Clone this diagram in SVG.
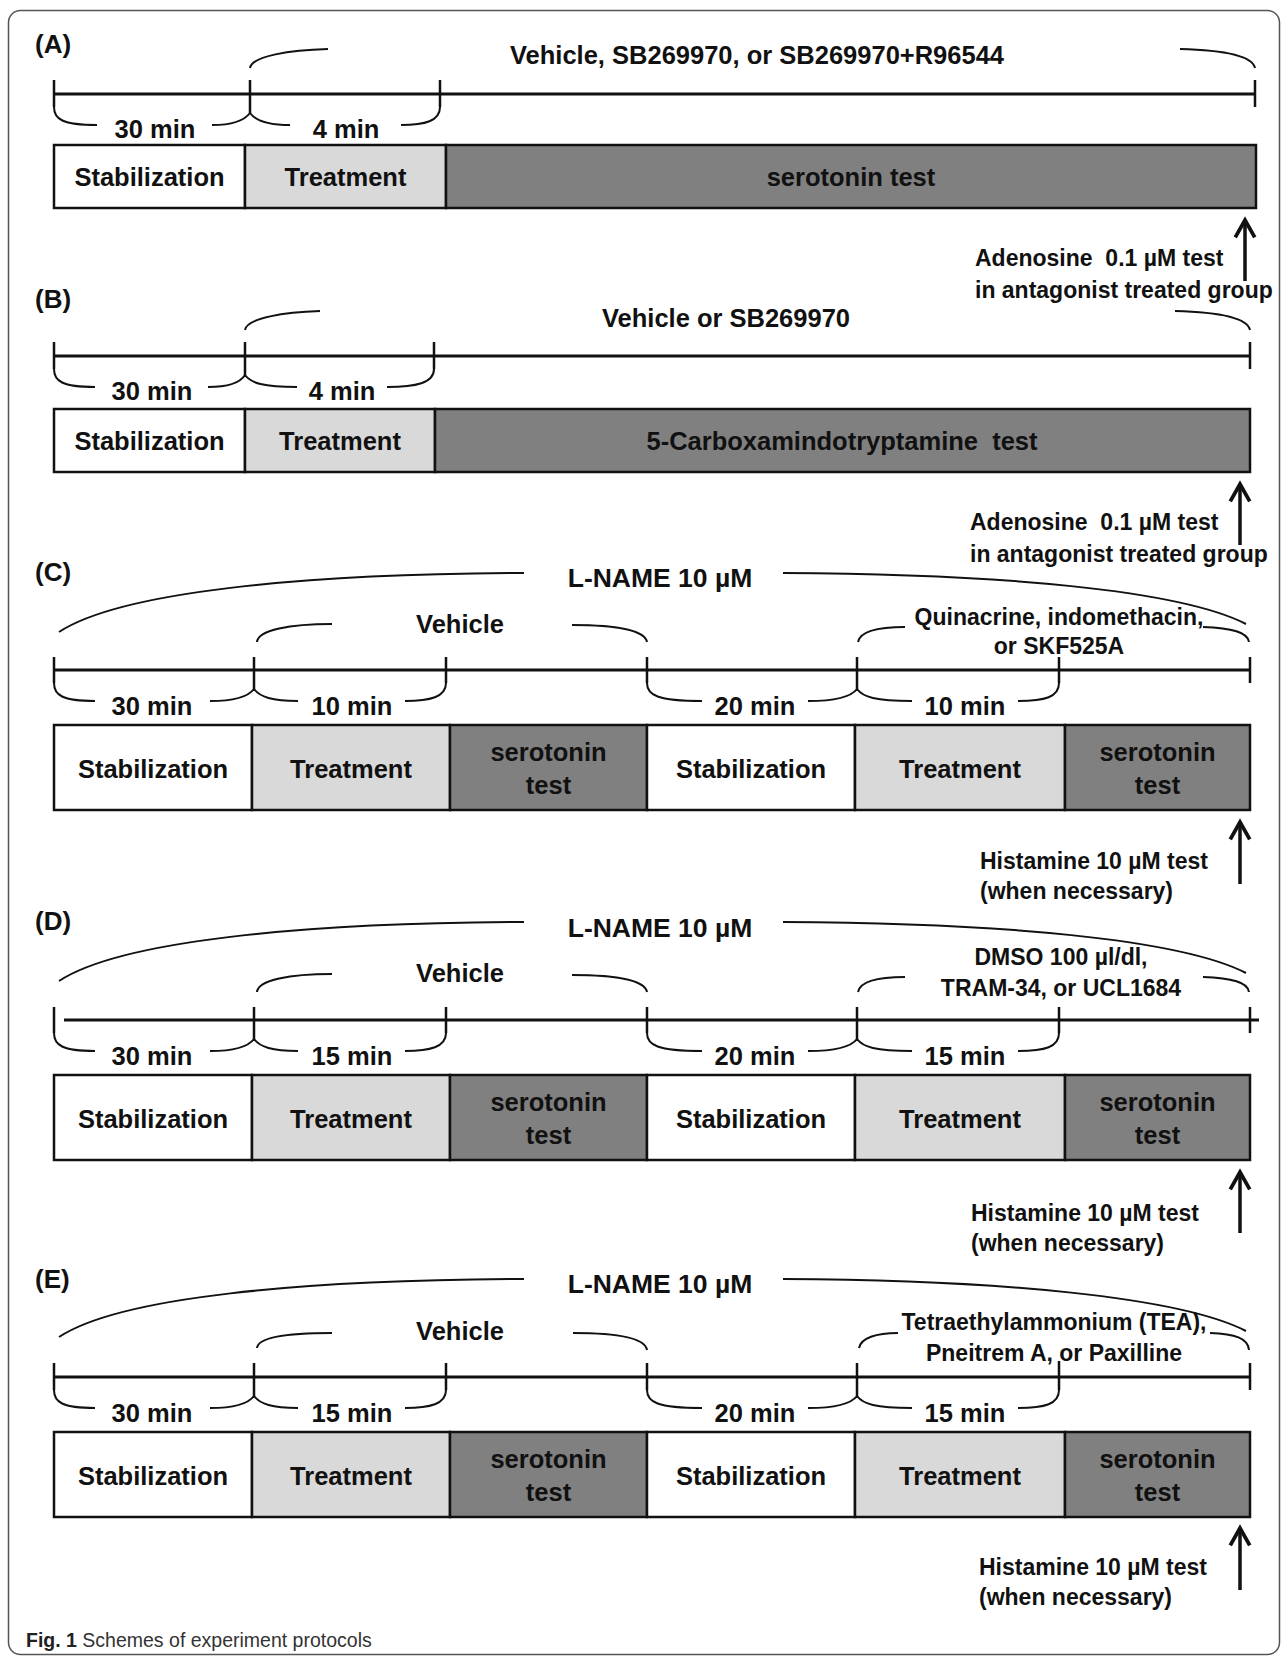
<svg xmlns="http://www.w3.org/2000/svg" width="1287" height="1660" viewBox="0 0 1287 1660">
<defs>
<style>
.t{font-family:'Liberation Sans',Arial,sans-serif;font-weight:bold;fill:#111}
.m{font-size:25.5px;text-anchor:middle}
.a{font-size:23px}
.ac{font-size:23px;text-anchor:middle}
.lbl{font-size:26px}
.ln{font-size:26.5px;text-anchor:middle}
.tl{stroke:#111;stroke-width:3.2;fill:none}
.tk{stroke:#111;stroke-width:2.5;fill:none}
.br{stroke:#111;stroke-width:2;fill:none}
.bx{stroke:#111;stroke-width:2.5}
.w{fill:#fff}.lg{fill:#d9d9d9}.dg{fill:#808080}
.ar{stroke:#111;stroke-width:3.5;fill:none;marker-end:url(#ah)}
.cap{font-family:'Liberation Sans',Arial,sans-serif;font-size:19.5px;fill:#333}
</style>
<marker id="ah" markerUnits="userSpaceOnUse" markerWidth="24" markerHeight="26" viewBox="-18 -12 22 24" refX="0" refY="0" orient="auto">
<path d="M-16,-9 L0,0 L-16,9" fill="none" stroke="#111" stroke-width="3.5"/>
</marker>
</defs>
<rect x="8.5" y="10.5" width="1271" height="1644" rx="12" fill="#fff" stroke="#555" stroke-width="1.5"/>

<!-- Panel A -->
<g id="panelA">
<text class="t lbl" x="35" y="53">(A)</text>
<text class="t m" x="757" y="64">Vehicle, SB269970, or SB269970+R96544</text>
<g id="connA">
<line class="tl" x1="54" y1="94" x2="1255" y2="94"/>
<path class="tk" d="M54,80 V107 M250,80 V113 M440,80 V107 M1255,80 V107"/>
<path class="br" d="M250,68 C252,56 290,50 328,49 M1180,49 C1220,50 1252,55 1255,68"/>
<path class="br" d="M54,107 C54,119 62,125 97,125 M212,125 C232,125 244,121 250,113 M250,113 C256,121 268,125 290,125 M401,125 C425,125 440,121 440,107"/>
<line class="ar" x1="1245" y1="281" x2="1245" y2="220"/>
</g>
<text class="t m" x="155" y="138">30 min</text>
<text class="t m" x="346" y="138">4 min</text>
<g id="A_stab"><rect class="bx w" x="54" y="145" width="191" height="63"/><text class="t m" x="149.5" y="186">Stabilization</text></g>
<g id="A_treat"><rect class="bx lg" x="245" y="145" width="201" height="63"/><text class="t m" x="345.5" y="186">Treatment</text></g>
<g id="A_test"><rect class="bx dg" x="446" y="145" width="810" height="63"/><text class="t m" x="851" y="186">serotonin test</text></g>
<text class="t a" x="975" y="266" xml:space="preserve">Adenosine  0.1 µM test</text>
<text class="t a" x="975" y="298">in antagonist treated group</text>
</g>

<!-- Panel B -->
<g id="panelB">
<text class="t lbl" x="35" y="308">(B)</text>
<text class="t m" x="726" y="327">Vehicle or SB269970</text>
<g id="connB">
<line class="tl" x1="54" y1="356" x2="1250" y2="356"/>
<path class="tk" d="M54,342 V369 M245,342 V375 M434,342 V369 M1250,342 V369"/>
<path class="br" d="M245,330 C247,318 285,312 320,311 M1175,311 C1215,312 1247,317 1250,330"/>
<path class="br" d="M54,369 C54,381 62,387 95,387 M208,387 C228,387 240,383 245,375 M245,375 C251,383 263,387 297,387 M387,387 C416,387 434,383 434,369"/>
<line class="ar" x1="1240" y1="545" x2="1240" y2="484"/>
</g>
<text class="t m" x="152" y="400">30 min</text>
<text class="t m" x="342" y="400">4 min</text>
<g id="B_stab"><rect class="bx w" x="54" y="409" width="191" height="63"/><text class="t m" x="149.5" y="450">Stabilization</text></g>
<g id="B_treat"><rect class="bx lg" x="245" y="409" width="190" height="63"/><text class="t m" x="340" y="450">Treatment</text></g>
<g id="B_test"><rect class="bx dg" x="435" y="409" width="815" height="63"/><text class="t m" x="842" y="450" xml:space="preserve">5-Carboxamindotryptamine  test</text></g>
<text class="t a" x="970" y="530" xml:space="preserve">Adenosine  0.1 µM test</text>
<text class="t a" x="970" y="562">in antagonist treated group</text>
</g>

<!-- Panel C -->
<g id="panelC" transform="translate(0,670)">
<text class="t lbl" x="35" y="-89">(C)</text>
<text class="t ln" x="660" y="-83">L-NAME 10 µM</text>
<text class="t m" x="460" y="-37">Vehicle</text>
<text class="t ac" x="1059" y="-45">Quinacrine, indomethacin,</text>
<text class="t ac" x="1059" y="-16">or SKF525A</text>
<g id="connC">
<path class="br" d="M59,-38 C120,-78 300,-96 524,-97 M783,-97 C1000,-96 1180,-80 1246,-46"/>
<path class="br" d="M257,-28 C258,-40 290,-46 332,-46 M572,-45 C615,-45 645,-40 647,-28"/>
<path class="br" d="M858,-28 C860,-38 876,-43 905,-43 M1203,-43 C1232,-42 1248,-38 1249,-28"/>
<line class="tl" x1="54" y1="0" x2="1250" y2="0"/>
<path class="tk" d="M54,-13 V13 M254,-13 V19 M446,-13 V13 M647,-13 V13 M857,-13 V19 M1059,-13 V13 M1250,-13 V13"/>
<path class="br" d="M54,13 C54,25 62,31 95,31 M210,31 C232,31 248,27 254,19 M254,19 C260,27 272,31 298,31 M405,31 C430,31 446,27 446,13 M647,13 C647,25 657,31 702,31 M808,31 C836,31 851,27 857,19 M857,19 C863,27 875,31 912,31 M1018,31 C1045,31 1059,27 1059,13"/>
<line class="ar" x1="1240" y1="214" x2="1240" y2="152"/>
</g>
<text class="t m" x="152" y="45">30 min</text>
<text class="t m" x="352" y="45">10 min</text>
<text class="t m" x="755" y="45">20 min</text>
<text class="t m" x="965" y="45">10 min</text>
<g id="C_stab1"><rect class="bx w" x="54" y="55" width="198" height="85"/><text class="t m" x="153" y="108">Stabilization</text></g>
<g id="C_treat1"><rect class="bx lg" x="252" y="55" width="198" height="85"/><text class="t m" x="351" y="108">Treatment</text></g>
<g id="C_test1"><rect class="bx dg" x="450" y="55" width="197" height="85"/><text class="t m" x="548.5" y="91">serotonin</text><text class="t m" x="548.5" y="124">test</text></g>
<g id="C_stab2"><rect class="bx w" x="647" y="55" width="208" height="85"/><text class="t m" x="751" y="108">Stabilization</text></g>
<g id="C_treat2"><rect class="bx lg" x="855" y="55" width="210" height="85"/><text class="t m" x="960" y="108">Treatment</text></g>
<g id="C_test2"><rect class="bx dg" x="1065" y="55" width="185" height="85"/><text class="t m" x="1157.5" y="91">serotonin</text><text class="t m" x="1157.5" y="124">test</text></g>
<text class="t a" x="980" y="199">Histamine 10 µM test</text>
<text class="t a" x="980" y="229">(when necessary)</text>
</g>

<!-- Panel D -->
<g id="panelD" transform="translate(0,1020)">
<text class="t lbl" x="35" y="-90">(D)</text>
<text class="t ln" x="660" y="-83">L-NAME 10 µM</text>
<text class="t m" x="460" y="-38">Vehicle</text>
<text class="t ac" x="1061" y="-55">DMSO 100 µl/dl,</text>
<text class="t ac" x="1061" y="-24">TRAM-34, or UCL1684</text>
<g id="connD">
<path class="br" d="M59,-39 C120,-79 300,-97 524,-98 M783,-98 C1000,-97 1180,-81 1246,-47"/>
<path class="br" d="M257,-28 C258,-40 290,-46 332,-46 M572,-45 C615,-45 645,-40 647,-28"/>
<path class="br" d="M858,-28 C860,-38 876,-43 905,-43 M1203,-43 C1232,-42 1248,-38 1249,-28"/>
<line class="tl" x1="64" y1="0" x2="1259" y2="0"/>
<path class="tk" d="M54,-13 V13 M254,-13 V19 M446,-13 V13 M647,-13 V13 M857,-13 V19 M1059,-13 V13 M1250,-13 V13"/>
<path class="br" d="M54,13 C54,25 62,31 95,31 M210,31 C232,31 248,27 254,19 M254,19 C260,27 272,31 298,31 M405,31 C430,31 446,27 446,13 M647,13 C647,25 657,31 702,31 M808,31 C836,31 851,27 857,19 M857,19 C863,27 875,31 912,31 M1018,31 C1045,31 1059,27 1059,13"/>
<line class="ar" x1="1240" y1="213" x2="1240" y2="152"/>
</g>
<text class="t m" x="152" y="45">30 min</text>
<text class="t m" x="352" y="45">15 min</text>
<text class="t m" x="755" y="45">20 min</text>
<text class="t m" x="965" y="45">15 min</text>
<g id="D_stab1"><rect class="bx w" x="54" y="55" width="198" height="85"/><text class="t m" x="153" y="108">Stabilization</text></g>
<g id="D_treat1"><rect class="bx lg" x="252" y="55" width="198" height="85"/><text class="t m" x="351" y="108">Treatment</text></g>
<g id="D_test1"><rect class="bx dg" x="450" y="55" width="197" height="85"/><text class="t m" x="548.5" y="91">serotonin</text><text class="t m" x="548.5" y="124">test</text></g>
<g id="D_stab2"><rect class="bx w" x="647" y="55" width="208" height="85"/><text class="t m" x="751" y="108">Stabilization</text></g>
<g id="D_treat2"><rect class="bx lg" x="855" y="55" width="210" height="85"/><text class="t m" x="960" y="108">Treatment</text></g>
<g id="D_test2"><rect class="bx dg" x="1065" y="55" width="185" height="85"/><text class="t m" x="1157.5" y="91">serotonin</text><text class="t m" x="1157.5" y="124">test</text></g>
<text class="t a" x="971" y="201">Histamine 10 µM test</text>
<text class="t a" x="971" y="231">(when necessary)</text>
</g>

<!-- Panel E -->
<g id="panelE" transform="translate(0,1377)">
<text class="t lbl" x="35" y="-89">(E)</text>
<text class="t ln" x="660" y="-84">L-NAME 10 µM</text>
<text class="t m" x="460" y="-37">Vehicle</text>
<text class="t ac" x="1054" y="-47">Tetraethylammonium (TEA),</text>
<text class="t ac" x="1054" y="-16">Pneitrem A, or Paxilline</text>
<g id="connE">
<path class="br" d="M59,-40 C120,-80 300,-97 524,-98 M783,-98 C1000,-97 1180,-80 1246,-46"/>
<path class="br" d="M257,-29 C258,-40 290,-44 332,-44 M573,-44 C615,-44 645,-40 647,-27"/>
<path class="br" d="M859,-29 C861,-39 876,-44 898,-44 M1210,-44 C1235,-43 1248,-39 1249,-27"/>
<line class="tl" x1="54" y1="0" x2="1250" y2="0"/>
<path class="tk" d="M54,-14 V13 M254,-14 V19 M446,-14 V13 M647,-14 V13 M857,-14 V19 M1059,-16 V13 M1250,-14 V13"/>
<path class="br" d="M54,13 C54,25 62,31 95,31 M210,31 C232,31 248,27 254,19 M254,19 C260,27 272,31 298,31 M405,31 C430,31 446,27 446,13 M647,13 C647,25 657,31 702,31 M808,31 C836,31 851,27 857,19 M857,19 C863,27 875,31 912,31 M1018,31 C1045,31 1059,27 1059,13"/>
<line class="ar" x1="1240" y1="213" x2="1240" y2="151"/>
</g>
<text class="t m" x="152" y="45">30 min</text>
<text class="t m" x="352" y="45">15 min</text>
<text class="t m" x="755" y="45">20 min</text>
<text class="t m" x="965" y="45">15 min</text>
<g id="E_stab1"><rect class="bx w" x="54" y="55" width="198" height="85"/><text class="t m" x="153" y="108">Stabilization</text></g>
<g id="E_treat1"><rect class="bx lg" x="252" y="55" width="198" height="85"/><text class="t m" x="351" y="108">Treatment</text></g>
<g id="E_test1"><rect class="bx dg" x="450" y="55" width="197" height="85"/><text class="t m" x="548.5" y="91">serotonin</text><text class="t m" x="548.5" y="124">test</text></g>
<g id="E_stab2"><rect class="bx w" x="647" y="55" width="208" height="85"/><text class="t m" x="751" y="108">Stabilization</text></g>
<g id="E_treat2"><rect class="bx lg" x="855" y="55" width="210" height="85"/><text class="t m" x="960" y="108">Treatment</text></g>
<g id="E_test2"><rect class="bx dg" x="1065" y="55" width="185" height="85"/><text class="t m" x="1157.5" y="91">serotonin</text><text class="t m" x="1157.5" y="124">test</text></g>
<text class="t a" x="979" y="198">Histamine 10 µM test</text>
<text class="t a" x="979" y="228">(when necessary)</text>
</g>

<text class="cap" x="26" y="1647"><tspan font-weight="bold" fill="#222">Fig. 1</tspan> Schemes of experiment protocols</text>
</svg>
